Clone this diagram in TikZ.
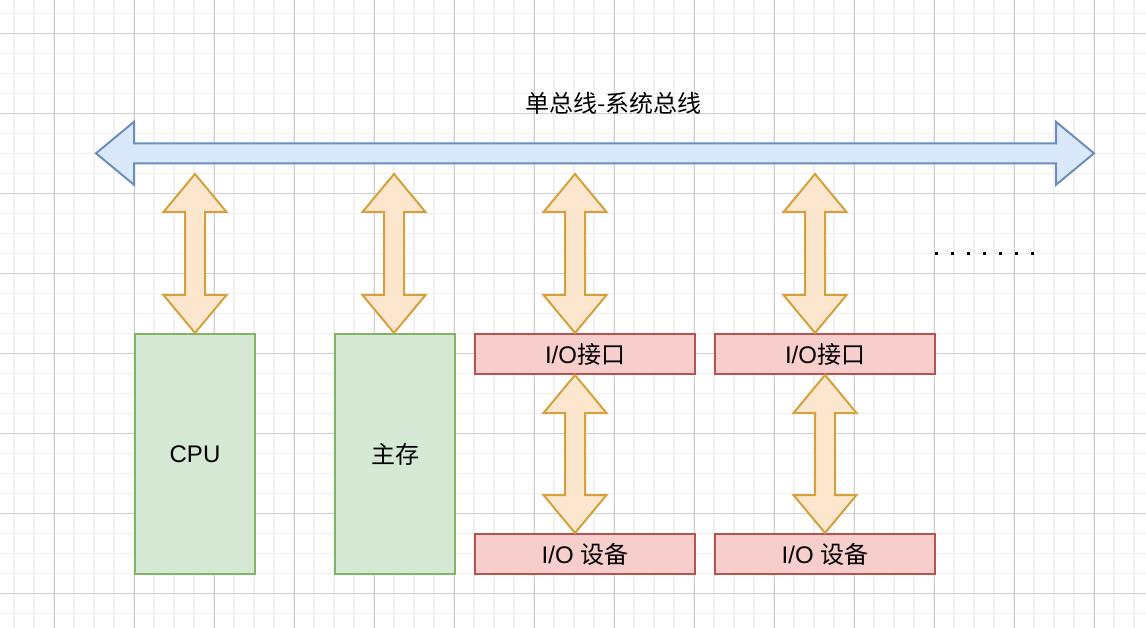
\documentclass[tikz,border=0pt]{standalone}
\usepackage{fontspec}
\setmainfont{Liberation Sans}
\newfontfamily\cjk{Noto Sans CJK SC}
\usetikzlibrary{calc}

\definecolor{gridminor}{HTML}{F0F0F0}
\definecolor{gridmajor}{HTML}{D0D0D0}
\definecolor{busfill}{HTML}{DAE8FC}
\definecolor{busline}{HTML}{6C8EBF}
\definecolor{tapfill}{HTML}{FCE6CE}
\definecolor{tapline}{HTML}{D6A03A}
\definecolor{unitfill}{HTML}{D5E8D4}
\definecolor{unitline}{HTML}{82B366}
\definecolor{iofill}{HTML}{F8CECC}
\definecolor{ioline}{HTML}{B85450}

\newcommand{\biarrow}[3][tap]{%
  \draw[#1] (#2)
    -- ($(#2)!38pt!(#3)!31.5pt!90:(#3)$)
    -- ($(#2)!38pt!(#3)!10pt!90:(#3)$)
    -- ($(#3)!38pt!(#2)!10pt!-90:(#2)$)
    -- ($(#3)!38pt!(#2)!31.5pt!-90:(#2)$)
    -- (#3)
    -- ($(#3)!38pt!(#2)!31.5pt!90:(#2)$)
    -- ($(#3)!38pt!(#2)!10pt!90:(#2)$)
    -- ($(#2)!38pt!(#3)!10pt!-90:(#3)$)
    -- ($(#2)!38pt!(#3)!31.5pt!-90:(#3)$)
    -- cycle;}

\begin{document}
\begin{tikzpicture}[x=1pt,y=-1pt]
\tikzstyle{every node}+=[inner sep=0pt, font=\fontsize{24}{28}\selectfont]
\tikzstyle{unit}=[draw=unitline, fill=unitfill, line width=2pt, minimum width=120pt, minimum height=240pt]
\tikzstyle{port}=[draw=ioline, fill=iofill, line width=2pt, minimum width=220pt, minimum height=40pt]
\tikzstyle{tap}=[draw=tapline, fill=tapfill, line width=2pt, line join=miter]
\tikzstyle{bus}=[draw=busline, fill=busfill, line width=2pt, line join=miter]
\fill[white] (0,0) rectangle (1146,628);
\useasboundingbox (0,0) rectangle (1146,628);
\foreach \x in {14,34,...,1134} \draw[gridminor, line width=1.5pt] (\x,0) -- (\x,628);
\foreach \y in {13,33,...,613} \draw[gridminor, line width=1.5pt] (0,\y+0.3) -- (1146,\y+0.3);
\foreach \x in {54,134,...,1134} \draw[gridmajor, line width=1pt] (\x,0) -- (\x,628);
\foreach \y in {33,113,...,593} \draw[gridmajor, line width=1pt] (0,\y+0.3) -- (1146,\y+0.3);

\node (title) at (613.5,103) {\cjk 单总线-系统总线};
\coordinate (busL) at (96,153.3);
\coordinate (busR) at (1094,153.3);
\biarrow[bus]{busL}{busR}
\coordinate (tapY) at (0,174);

\node[unit] (cpu) at (195,454) {CPU};
\node[unit] (mem) at (395,454) {\cjk 主存};
\node[port] (ifa) at (585,354) {I/O{\cjk 接口}};
\node[port] (ifb) at (825,354) {I/O{\cjk 接口}};
\node[port] (deva) at (585,554) {I/O {\cjk 设备}};
\node[port] (devb) at (825,554) {I/O {\cjk 设备}};

\coordinate (cpuT) at (cpu.north |- tapY);
\coordinate (memB) at ($(mem.north)+(-1,0)$);
\coordinate (memT) at (memB |- tapY);
\coordinate (ifaB) at ($(ifa.north)+(-10,0)$);
\coordinate (ifaT) at (ifaB |- tapY);
\coordinate (ifbB) at ($(ifb.north)+(-10,0)$);
\coordinate (ifbT) at (ifbB |- tapY);
\coordinate (ifaS) at ($(ifa.south)+(-10,0)$);
\coordinate (devaN) at ($(deva.north)+(-10,0)$);
\biarrow{cpuT}{cpu.north}
\biarrow{memT}{memB}
\biarrow{ifaT}{ifaB}
\biarrow{ifbT}{ifbB}
\biarrow{ifaS}{devaN}
\biarrow{ifb.south}{devb.north}

\coordinate (dotsL) at (934.5,253.3);
\coordinate (dotsR) at (1035,253.3);
\draw[line width=3pt, dash pattern=on 3pt off 13.1pt] (dotsL) -- (dotsR);
\end{tikzpicture}
\end{document}
